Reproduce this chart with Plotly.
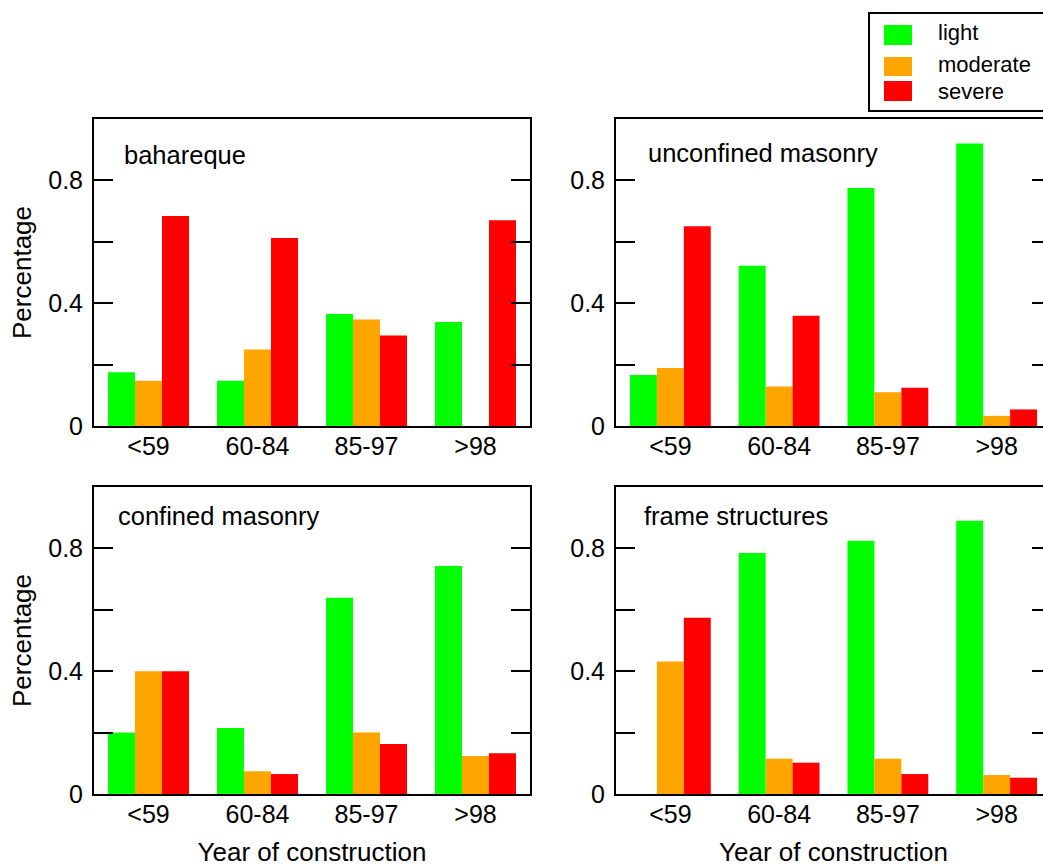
import plotly.graph_objects as go
from plotly.subplots import make_subplots

# ---------------- data ----------------
categories = ["<59", "60-84", "85-97", ">98"]
series_names = ["light", "moderate", "severe"]
series_colors = ["#00ff00", "#ffa500", "#ff0000"]

panel_titles = ["bahareque", "unconfined masonry", "confined masonry", "frame structures"]

bahareque_light = [0.175, 0.147, 0.365, 0.339]
bahareque_moderate = [0.147, 0.249, 0.347, 0.0]
bahareque_severe = [0.684, 0.612, 0.295, 0.670]

unconfined_light = [0.166, 0.522, 0.775, 0.920]
unconfined_moderate = [0.189, 0.129, 0.110, 0.033]
unconfined_severe = [0.651, 0.359, 0.125, 0.054]

confined_light = [0.200, 0.215, 0.639, 0.743]
confined_moderate = [0.400, 0.074, 0.200, 0.124]
confined_severe = [0.400, 0.065, 0.163, 0.133]

frame_light = [0.0, 0.785, 0.825, 0.890]
frame_moderate = [0.432, 0.115, 0.115, 0.062]
frame_severe = [0.574, 0.102, 0.065, 0.053]

y_tickvals = [0, 0.2, 0.4, 0.6, 0.8]
y_ticktext = ["0", "", "0.4", "", "0.8"]
x_title = "Year of construction"
y_title = "Percentage"

panels = [
    (bahareque_light, bahareque_moderate, bahareque_severe),
    (unconfined_light, unconfined_moderate, unconfined_severe),
    (confined_light, confined_moderate, confined_severe),
    (frame_light, frame_moderate, frame_severe),
]

# ---------------- layout geometry (pixels) ----------------
W, H = 1070, 867
L, R, T, B = 94, 1051, 119, 794
pw, ph = R - L, B - T


def px(x):
    return (x - L) / pw


def py(y):
    return (B - y) / ph


FONT = "Liberation Sans, Arial, Helvetica, sans-serif"

fig = make_subplots(rows=2, cols=2)

positions = [(1, 1), (1, 2), (2, 1), (2, 2)]
for (r, c), vals in zip(positions, panels):
    for name, color, v in zip(series_names, series_colors, vals):
        fig.add_trace(
            go.Bar(x=categories, y=v, name=name, marker=dict(color=color, line=dict(width=0)),
                   showlegend=False),
            row=r, col=c,
        )

xdom = [[0, px(530)], [px(616), 1]]
ydom = [[py(426), 1], [0, py(487)]]

for i, (r, c) in enumerate(positions):
    ax = "" if i == 0 else str(i + 1)
    fig.layout["xaxis" + ax].update(
        domain=xdom[c - 1], range=[-0.5, 3.5], showline=True, linecolor="black", linewidth=2,
        mirror=True, ticks="", showgrid=False, zeroline=False, automargin=False,
        tickfont=dict(family=FONT, size=25, color="black"), ticklabelstandoff=-3,
        type="category",
    )
    fig.layout["yaxis" + ax].update(
        domain=ydom[r - 1], range=[0, 1.0], showline=True, linecolor="black", linewidth=2,
        mirror="ticks", ticks="inside", ticklen=19, tickwidth=2, tickcolor="black",
        tickvals=y_tickvals, ticktext=y_ticktext, showgrid=False, zeroline=False, automargin=False,
        tickfont=dict(family=FONT, size=25, color="black"), ticklabelstandoff=4,
    )

for ax in ["yaxis", "yaxis3"]:
    fig.layout[ax].title = dict(text=y_title, font=dict(family=FONT, size=26, color="black"), standoff=9)
for ax in ["xaxis3", "xaxis4"]:
    fig.layout[ax].title = dict(text=x_title, font=dict(family=FONT, size=26, color="black"), standoff=19)

# panel labels
label_pos = [(122, 155), (646, 153), (116, 516), (642, 516)]
for (lx, ly), txt in zip(label_pos, panel_titles):
    fig.add_annotation(x=px(lx), y=py(ly), xref="paper", yref="paper", text=txt, showarrow=False,
                       xanchor="left", yanchor="middle",
                       font=dict(family=FONT, size=25.5, color="black"))

# legend (drawn manually to match box style)
fig.add_shape(type="rect", xref="paper", yref="paper", x0=px(869), x1=px(1066), y0=py(111), y1=py(13),
              line=dict(color="black", width=2), fillcolor="white", layer="above")
leg_rows = [(25, 45, 32), (57, 76, 65), (81, 101, 91)]
for (y0, y1, yt), name, color in zip(leg_rows, series_names, series_colors):
    fig.add_shape(type="rect", xref="paper", yref="paper", x0=px(884), x1=px(912), y0=py(y1), y1=py(y0),
                  line=dict(width=0), fillcolor=color, layer="above")
    fig.add_annotation(x=px(937), y=py(yt), xref="paper", yref="paper", text=name, showarrow=False,
                       xanchor="left", yanchor="middle", borderpad=0,
                       font=dict(family=FONT, size=22, color="black"))

fig.update_layout(
    width=W, height=H, margin=dict(l=L, r=W - R, t=T, b=H - B, pad=0),
    barmode="group", bargap=0.257, bargroupgap=0,
    plot_bgcolor="white", paper_bgcolor="white", showlegend=False,
    font=dict(family=FONT, color="black"),
)

fig.write_html(
    "out.html",
    config={"displayModeBar": False},
    post_script="document.body.style.margin='0';document.body.style.overflow='hidden';"
                "document.documentElement.style.overflow='hidden';",
)
